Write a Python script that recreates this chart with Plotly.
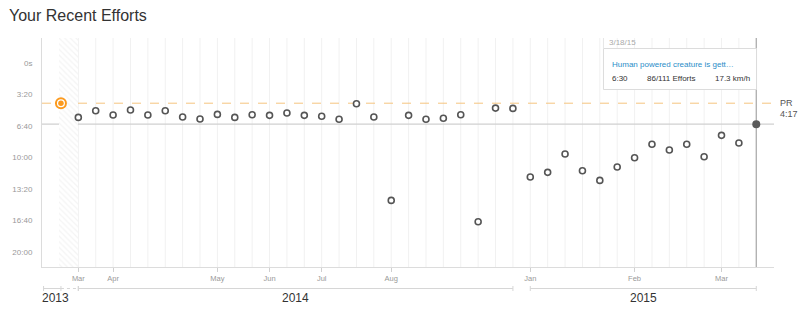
import plotly.graph_objects as go

# ---------------- data ----------------
effort_secs = [257, 347, 305, 332, 300, 332, 305, 345, 357, 328,
               347, 330, 334, 319, 334, 340, 359, 260, 345, 874,
               334, 359, 353, 330, 1010, 288, 290, 726, 696, 580,
               686, 747, 662, 603, 518, 554, 518, 597, 461, 510,
               390]
pr_index = 0
selected_index = 40
pr_secs = 257
month_labels = ["Mar", "Apr", "May", "Jun", "Jul", "Aug", "Jan", "Feb", "Mar"]
month_idx = [1, 3, 9, 12, 15, 19, 27, 33, 38]
year_labels = ["2013", "2014", "2015"]
year_start = [-1, 1, 27]
year_end = [1, 26, 40]
ytick_vals = [0, 200, 400, 600, 800, 1000, 1200]
ytick_text = ["0s", "3:20", "6:40", "10:00", "13:20", "16:40", "20:00"]
tooltip_date = "3/18/15"
tooltip_title = "Human powered creature is gett…"
tooltip_time = "6:30"
tooltip_rank = "86/111 Efforts"
tooltip_speed = "17.3 km/h"

FONT = "Liberation Sans, Arial, sans-serif"
ORANGE = "#fc9a1e"

# plot geometry (pixels)
W, H = 800, 310
L, R, T, B = 40, 774, 38, 267
XR = [-1.09, 41.02]
YR = [1297, -157]

def px_x(px):
    return (px - L) / (R - L)

def px_y(py):
    return (B - py) / (B - T)

idx = list(range(len(effort_secs)))
normal_x = [i for i in idx if i not in (pr_index, selected_index)]
normal_y = [effort_secs[i] for i in normal_x]

fig = go.Figure()

# hatched 2013 band
fig.add_trace(go.Bar(
    x=[0.45], y=[YR[0] - YR[1]], base=[YR[1]], width=[1.1],
    marker=dict(color="white", line=dict(width=0),
                pattern=dict(shape="\\", fgcolor="#e9e9e9", bgcolor="white",
                             size=4, solidity=0.3)),
    hoverinfo="skip", showlegend=False))

fig.add_trace(go.Scatter(
    x=normal_x, y=normal_y, mode="markers",
    marker=dict(symbol="circle", size=6, color="white",
                line=dict(color="#555", width=1.6)),
    showlegend=False, hoverinfo="skip"))

fig.add_trace(go.Scatter(
    x=[pr_index], y=[effort_secs[pr_index]], mode="markers",
    marker=dict(symbol="circle", size=10, color="white",
                line=dict(color=ORANGE, width=2)),
    showlegend=False, hoverinfo="skip"))
fig.add_trace(go.Scatter(
    x=[pr_index], y=[effort_secs[pr_index]], mode="markers",
    marker=dict(symbol="circle", size=5.5, color=ORANGE, line=dict(width=0)),
    showlegend=False, hoverinfo="skip"))

fig.add_trace(go.Scatter(
    x=[selected_index], y=[effort_secs[selected_index]], mode="markers",
    marker=dict(symbol="circle", size=8, color="#5a5a5a", line=dict(width=0)),
    showlegend=False, hoverinfo="skip"))

shapes = []
# vertical gridlines at each effort
for i in idx[1:]:
    shapes.append(dict(type="line", xref="x", yref="paper", x0=i, x1=i, y0=0, y1=1,
                       line=dict(color="#f1f1f1", width=1), layer="below"))
# selected effort horizontal line
shapes.append(dict(type="line", xref="paper", yref="y", x0=0, x1=1,
                   y0=effort_secs[selected_index], y1=effort_secs[selected_index],
                   line=dict(color="#d0d0d0", width=1.3), layer="below"))
# PR dashed line
shapes.append(dict(type="line", xref="paper", yref="y", x0=0, x1=1,
                   y0=pr_secs, y1=pr_secs,
                   line=dict(color="#f5c47f", width=1, dash="dash"), layer="below"))
# selected vertical line
shapes.append(dict(type="line", xref="x", yref="paper", x0=selected_index, x1=selected_index,
                   y0=0, y1=1, line=dict(color="#a8a8a8", width=1.2), layer="below"))
# tooltip box
shapes.append(dict(type="rect", xref="paper", yref="paper",
                   x0=px_x(603), x1=px_x(756.5), y0=px_y(89.5), y1=px_y(48.5),
                   fillcolor="white", line=dict(color="#dcdcdc", width=1), layer="above"))
shapes.append(dict(type="line", xref="paper", yref="paper",
                   x0=px_x(603), x1=px_x(603), y0=px_y(48.5), y1=1,
                   line=dict(color="#e6e6e6", width=1), layer="above"))

# year brackets
by = px_y(288.5)
tk = 2.5 / (B - T)
for s, e in zip(year_start, year_end):
    if s == -1:
        shapes.append(dict(type="line", xref="x", yref="paper", x0=s, x1=0, y0=by, y1=by,
                           line=dict(color="#d6d6d6", width=1)))
        shapes.append(dict(type="line", xref="x", yref="paper", x0=0, x1=e, y0=by, y1=by,
                           line=dict(color="#d6d6d6", width=1, dash="dot")))
        for xv in (s, 0, e):
            shapes.append(dict(type="line", xref="x", yref="paper", x0=xv, x1=xv,
                               y0=by - tk, y1=by + tk, line=dict(color="#d6d6d6", width=1)))
    else:
        shapes.append(dict(type="line", xref="x", yref="paper", x0=s, x1=e, y0=by, y1=by,
                           line=dict(color="#d6d6d6", width=1)))
        for xv in (s, e):
            shapes.append(dict(type="line", xref="x", yref="paper", x0=xv, x1=xv,
                               y0=by - tk, y1=by + tk, line=dict(color="#d6d6d6", width=1)))

annotations = []
annotations.append(dict(text="Your Recent Efforts", xref="paper", yref="paper",
                        x=px_x(5), y=px_y(15), xanchor="left", yanchor="middle",
                        showarrow=False, font=dict(family=FONT, size=16, color="#333")))
year_cx = [54, None, None]
for lbl, s, e, cx in zip(year_labels, year_start, year_end, year_cx):
    if cx is not None:
        annotations.append(dict(text=lbl, xref="paper", yref="paper", x=px_x(cx),
                                y=px_y(298), xanchor="center", yanchor="middle",
                                showarrow=False, font=dict(family=FONT, size=12, color="#333")))
    else:
        annotations.append(dict(text=lbl, xref="x", yref="paper", x=(s + e) / 2,
                                y=px_y(298), xanchor="center", yanchor="middle",
                                showarrow=False, font=dict(family=FONT, size=12, color="#333")))
# PR label
annotations.append(dict(text="PR", xref="paper", yref="paper", x=px_x(778), y=px_y(103.5),
                        xanchor="left", yanchor="middle", showarrow=False,
                        font=dict(family=FONT, size=9, color="#555")))
annotations.append(dict(text="4:17", xref="paper", yref="paper", x=px_x(778), y=px_y(113.5),
                        xanchor="left", yanchor="middle", showarrow=False,
                        font=dict(family=FONT, size=9, color="#555")))
# tooltip texts
annotations.append(dict(text=tooltip_date, xref="paper", yref="paper", x=px_x(606.5), y=px_y(42.5),
                        xanchor="left", yanchor="middle", showarrow=False,
                        font=dict(family=FONT, size=8, color="#aaa")))
annotations.append(dict(text=tooltip_title, xref="paper", yref="paper", x=px_x(610), y=px_y(64),
                        xanchor="left", yanchor="middle", showarrow=False,
                        font=dict(family=FONT, size=8, color="#2a8dc8")))
for txt, px in zip([tooltip_time, tooltip_rank, tooltip_speed], [610, 645, 713]):
    annotations.append(dict(text=txt, xref="paper", yref="paper", x=px_x(px), y=px_y(78),
                            xanchor="left", yanchor="middle", showarrow=False,
                            font=dict(family=FONT, size=8, color="#333")))

fig.update_layout(
    width=W, height=H,
    margin=dict(l=L, r=W - R, t=T, b=H - B, pad=0),
    paper_bgcolor="white", plot_bgcolor="white",
    showlegend=False, bargap=0,
    shapes=shapes, annotations=annotations,
    xaxis=dict(range=XR, showgrid=False, zeroline=False,
               showline=True, linecolor="#dcdcdc", linewidth=1,
               tickmode="array", tickvals=month_idx, ticktext=month_labels,
               ticks="outside", ticklen=4, tickcolor="#d0d0d0", tickwidth=1,
               tickfont=dict(family=FONT, size=7.5, color="#999")),
    yaxis=dict(range=YR, showgrid=False, zeroline=False,
               showline=True, linecolor="#dcdcdc", linewidth=1,
               tickmode="array", tickvals=ytick_vals, ticktext=ytick_text,
               ticks="", ticklabelstandoff=7,
               tickfont=dict(family=FONT, size=8, color="#999")),
)

fig.write_html("out.html", config=dict(displayModeBar=False))
